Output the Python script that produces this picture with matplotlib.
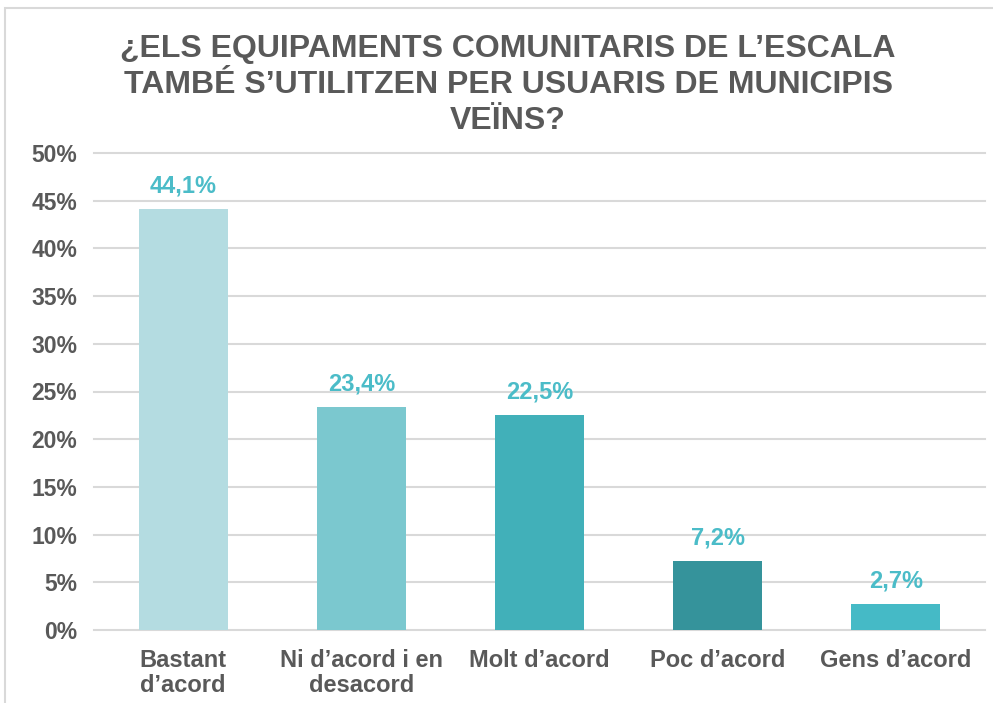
import matplotlib
matplotlib.use("Agg")
import matplotlib.pyplot as plt
from matplotlib.patches import Rectangle
from matplotlib.ticker import FuncFormatter

categories = ["Bastant\nd\u2019acord", "Ni d\u2019acord i en\ndesacord", "Molt d\u2019acord",
              "Poc d\u2019acord", "Gens d\u2019acord"]
values = [44.1, 23.4, 22.5, 7.2, 2.7]
bar_colors = ["#B4DCE1", "#7BC8CF", "#41B0B9", "#35939B", "#45BAC6"]
title = "\u00bfELS EQUIPAMENTS COMUNITARIS DE L\u2019ESCALA\nTAMB\u00c9 S\u2019UTILITZEN PER USUARIS DE MUNICIPIS\nVE\u00cfNS?"

plt.rcParams["font.family"] = ["Liberation Sans", "DejaVu Sans"]
plt.rcParams["font.weight"] = "bold"

TEXT = "#595959"
GRID = "#D9D9D9"

fig = plt.figure(figsize=(9.93, 7.03), dpi=100)
# outer chart frame
fig.patches.append(Rectangle((5 / 993, -0.05), 1.1, 1 - 8 / 703 + 0.05, transform=fig.transFigure,
                             fill=False, edgecolor=GRID, linewidth=1.5))

ax = fig.add_axes([94 / 993, 1 - 630 / 703, (985 - 94) / 993, (630 - 153) / 703])
x = range(len(categories))
bars = ax.bar(x, values, width=0.5, color=bar_colors, zorder=3)
for b, v in zip(bars, values):
    ax.text(b.get_x() + b.get_width() / 2, v + 1.2, f"{v:.1f}%".replace(".", ","),
            ha="center", va="bottom", color="#4BBCC8", fontsize=17, fontweight="bold")

ax.set_xlim(-0.5, len(categories) - 0.5)
ax.set_ylim(0, 50)
ax.set_yticks(range(0, 51, 5))
ax.yaxis.set_major_formatter(FuncFormatter(lambda v, p: f"{v:.0f}%"))
ax.grid(axis="y", color=GRID, linewidth=1.5, zorder=0)
for ln in ax.get_ygridlines():
    ln.set_clip_on(False)
for s in ax.spines.values():
    s.set_visible(False)
ax.tick_params(axis="both", length=0, colors=TEXT)
ax.tick_params(axis="y", pad=12, labelsize=16.5)
ax.tick_params(axis="x", pad=14, labelsize=17)
ax.set_xticks(list(x))
ax.set_xticklabels(categories, linespacing=1.1)
for lbl in ax.get_xticklabels() + ax.get_yticklabels():
    lbl.set_fontweight("bold")

fig.text(508 / 993, 1 - 85 / 703, title, ha="center", va="center", fontsize=23, fontweight="bold",
         color=TEXT, linespacing=1.25)

fig.savefig("out.png", dpi=100, facecolor="white")
